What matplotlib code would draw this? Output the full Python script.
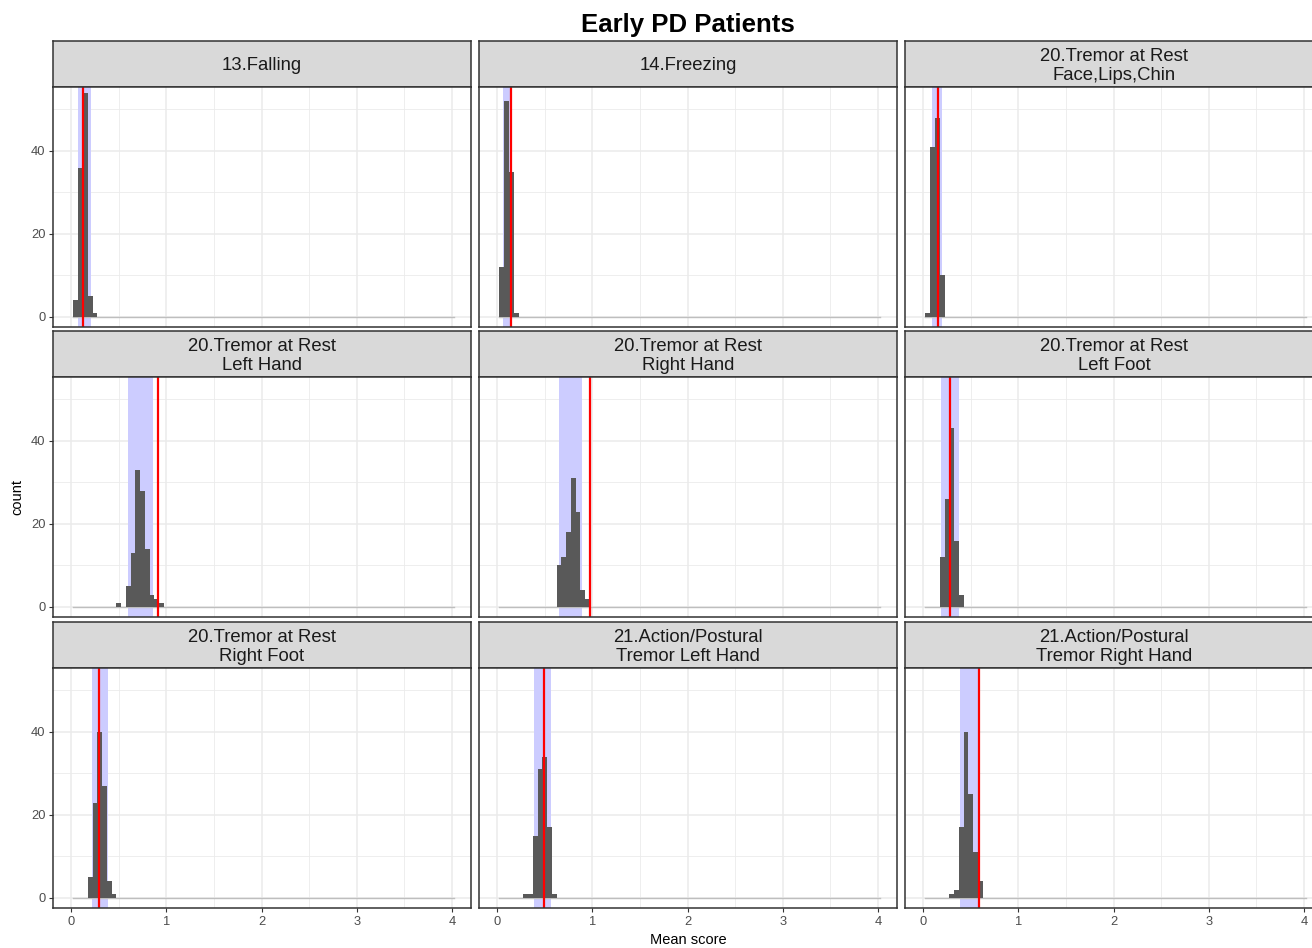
import matplotlib.pyplot as plt
import numpy as np

plt.rcParams['font.family'] = ['Liberation Sans', 'DejaVu Sans']

W, H = 1312, 948

# facet titles
panel_titles = [
    '13.Falling', '14.Freezing', '20.Tremor at Rest\nFace,Lips,Chin',
    '20.Tremor at Rest\nLeft Hand', '20.Tremor at Rest\nRight Hand', '20.Tremor at Rest\nLeft Foot',
    '20.Tremor at Rest\nRight Foot', '21.Action/Postural\nTremor Left Hand', '21.Action/Postural\nTremor Right Hand',
]

# histogram: centre of first non-empty bin (binwidth 0.05) and counts
bin_width = 0.05
first_bin = [0.05, 0.05, 0.05, 0.50, 0.65, 0.20, 0.20, 0.30, 0.30]
counts = [
    [4, 36, 54, 5, 1],
    [12, 52, 35, 1],
    [1, 41, 48, 10],
    [1, 0, 5, 13, 33, 28, 14, 3, 2, 1],
    [10, 12, 18, 31, 23, 4, 2],
    [12, 26, 43, 16, 3],
    [5, 23, 40, 27, 4, 1],
    [1, 1, 15, 31, 34, 17, 1],
    [1, 2, 17, 40, 25, 11, 4],
]

# observed value (red line) and interval (blue band)
observed = [0.122, 0.149, 0.153, 0.91, 0.979, 0.283, 0.29, 0.496, 0.588]
band_lo = [0.069, 0.058, 0.09, 0.60, 0.646, 0.192, 0.22, 0.383, 0.385]
band_hi = [0.206, 0.139, 0.195, 0.865, 0.892, 0.381, 0.385, 0.566, 0.584]

fig = plt.figure(figsize=(W / 100, H / 100), dpi=100)

# pixel layout (third column runs past the right edge, as in the original)
col_x = [53, 479, 905]
panel_w = 418
strip_top = [41, 331, 622]
strip_h = 46
panel_h = 240

for i, name in enumerate(panel_titles):
    r, c = divmod(i, 3)
    x0 = col_x[c]
    st = strip_top[r]
    pt = st + strip_h

    # strip
    sax = fig.add_axes([x0 / W, 1 - pt / H, panel_w / W, strip_h / H])
    sax.set_facecolor('#D9D9D9')
    sax.set_xticks([])
    sax.set_yticks([])
    for s in sax.spines.values():
        s.set_color('#333333')
        s.set_linewidth(1.1)
    sax.text(0.5, 0.46, name, ha='center', va='center', fontsize=13.3,
             color='#1A1A1A', linespacing=1.12, transform=sax.transAxes)

    # panel
    ax = fig.add_axes([x0 / W, 1 - (pt + panel_h) / H, panel_w / W, panel_h / H])
    ax.set_xlim(-0.19, 4.2)
    ax.set_ylim(-2.41, 55.4)
    ax.set_xticks([0, 1, 2, 3, 4])
    ax.set_xticks([0.5, 1.5, 2.5, 3.5], minor=True)
    ax.set_yticks([0, 20, 40])
    ax.set_yticks([10, 30, 50], minor=True)
    ax.grid(True, which='major', color='#EBEBEB', linewidth=1.1, zorder=0)
    ax.grid(True, which='minor', color='#EBEBEB', linewidth=0.6, zorder=0)
    ax.set_axisbelow(True)

    ax.axvspan(band_lo[i], band_hi[i], color='#CCCCFF', zorder=1, lw=0)

    # zero bins baseline
    ax.plot([0.025, 4.025], [0, 0], color='#BEBEBE', lw=1.0, zorder=2)
    cts = np.array(counts[i])
    ctr = first_bin[i] + bin_width * np.arange(len(cts))
    ax.bar(ctr, cts, width=bin_width, color='#595959', lw=0, zorder=3)

    ax.axvline(observed[i], color='red', lw=1.6, zorder=4)

    for s in ax.spines.values():
        s.set_color('#333333')
        s.set_linewidth(1.1)
        s.set_zorder(5)
    ax.tick_params(which='major', length=3, width=0.8, color='#333333',
                   labelsize=9.3, labelcolor='#4D4D4D', pad=2.5)
    ax.tick_params(which='minor', length=0)
    if r < 2:
        ax.tick_params(axis='x', which='major', length=0, labelbottom=False)
    if c > 0:
        ax.tick_params(axis='y', which='major', length=0, labelleft=False)

fig.text(688 / W, 1 - 25 / H, 'Early PD Patients', ha='center', va='center',
         fontsize=18.5, fontweight='bold')
fig.text(688 / W, 1 - 940 / H, 'Mean score', ha='center', va='center', fontsize=10.5)
fig.text(17 / W, 1 - 497 / H, 'count', ha='center', va='center', fontsize=10.5, rotation=90)

fig.savefig('out.png', dpi=100)
